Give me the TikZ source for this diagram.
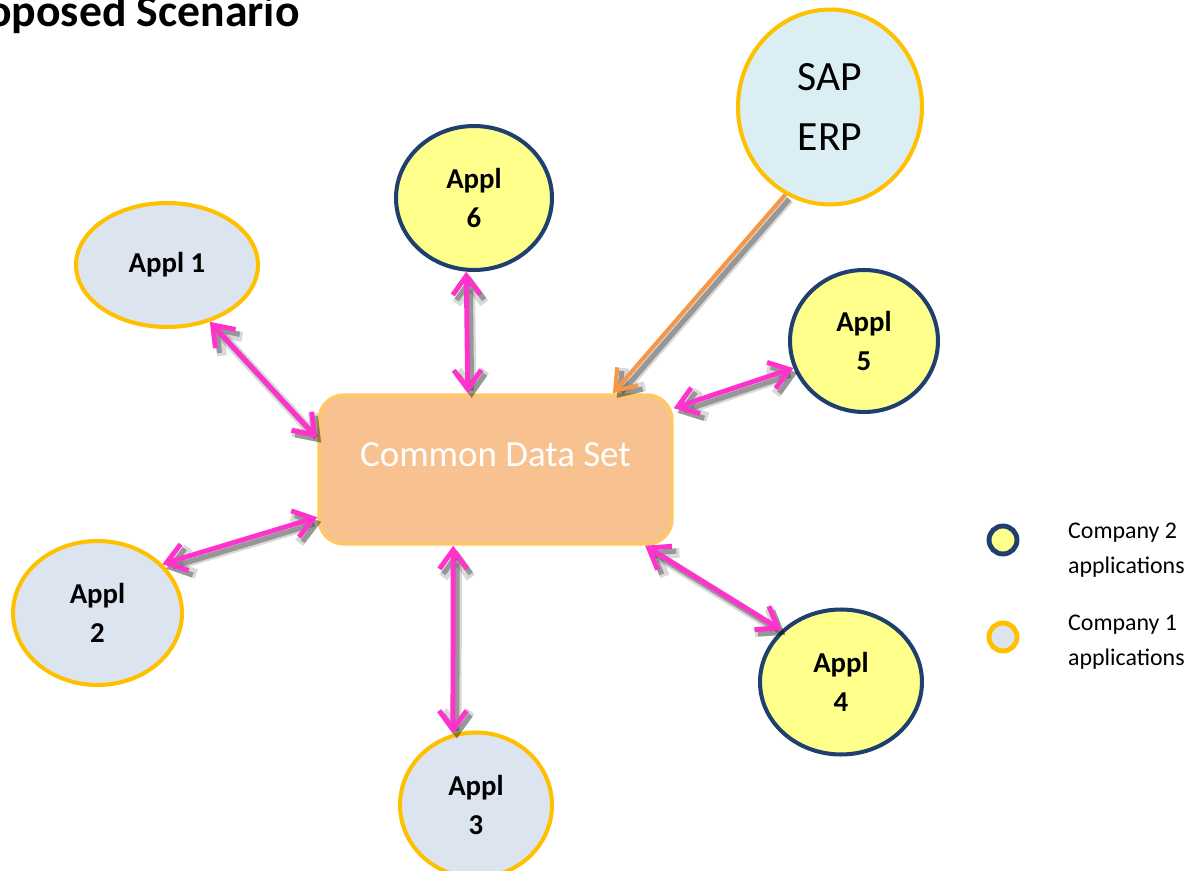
\documentclass[tikz,border=0pt]{standalone}
\usepackage{fontspec}
\setmainfont{Carlito}
\usetikzlibrary{arrows.meta,shapes.geometric}
\definecolor{compAfill}{HTML}{DCE4F0}
\definecolor{compAline}{HTML}{FFC000}
\definecolor{compBfill}{HTML}{FFFF8C}
\definecolor{compBline}{HTML}{1F3F6E}
\definecolor{sapfill}{HTML}{DAEEF3}
\definecolor{datafill}{HTML}{F8C190}
\definecolor{dataline}{HTML}{FFC966}
\definecolor{linkpink}{HTML}{FF33CC}
\definecolor{feedorange}{HTML}{F79646}
\begin{document}
\begin{tikzpicture}[x=0.02cm, y=-0.02cm,
% common options for the applications:
applA/.style = {ellipse, draw=compAline, fill=compAfill, line width=2.3pt,
            align=center, inner sep=0, font=\bfseries\fontsize{16.4}{22}\selectfont},
applB/.style = {ellipse, draw=compBline, fill=compBfill, line width=2.3pt,
            align=center, inner sep=0, font=\bfseries\fontsize{16.4}{22}\selectfont},
% common options for the links:
shadowed/.style = {preaction={draw=black, opacity=0.15, line width=5.5pt,
            transform canvas={shift={(2.2pt,-2.6pt)}}},
            preaction={draw=black, opacity=0.3, line width=3pt,
            transform canvas={shift={(2.2pt,-2.6pt)}}}},
link/.style = {shadowed, draw=linkpink, line width=2.8pt, line cap=round,
            {Straight Barb[length=0.38cm,width=0.55cm]}-{Straight Barb[length=0.38cm,width=0.55cm]}},
% common options for the legend:
keydot/.style = {circle, line width=2.8pt, minimum size=0.56cm, inner sep=0},
keytext/.style = {anchor=west, align=left, font=\fontsize{13.6}{20}\selectfont}]
\useasboundingbox (0,0) rectangle (1198,871);
\node[anchor=base east, font=\bfseries\fontsize{26}{30}\selectfont] (title) at (306,27) {Proposed Scenario};
\node[rectangle, rounded corners=0.5cm, draw=dataline, fill=datafill, line width=2pt,
      minimum width=7.06cm, minimum height=2.98cm] (data) at (495.5,469.5) {};
\node[text=white, font=\fontsize{21}{26}\selectfont] (datatext) at ([yshift=0.3cm]data.center) {Common Data Set};
\node[applA, minimum width=3.64cm, minimum height=2.48cm] (app1) at (167,265) {Appl 1};
\node[applA, minimum width=3.38cm, minimum height=2.88cm] (app2) at (97.5,613) {Appl\\2};
\node[applA, minimum width=3.04cm, minimum height=2.9cm] (app3) at (476,805) {Appl\\3};
\node[applB, minimum width=3.24cm, minimum height=2.9cm] (app4) at (841,682) {Appl\\4};
\node[applB, minimum width=2.96cm, minimum height=2.84cm] (app5) at (864,341) {Appl\\5};
\node[applB, minimum width=3.12cm, minimum height=2.88cm] (app6) at (474,198) {Appl\\6};
\node[ellipse, draw=compAline, fill=sapfill, line width=2.3pt, align=center, inner sep=0,
      minimum width=3.68cm, minimum height=3.9cm,
      font=\fontsize{23.7}{34}\selectfont] (sap) at (830,107) {SAP\\ERP};
\draw[link] (app1.-53) to (data.170);
\draw[link] (app6.-96) to (data.110);
\draw[link] (app5.-159) to (data.19);
\draw[link] (app4.139) to (data.-27);
\draw[link] (app3.108) to (data.-119);
\draw[link] (app2.37) to (data.195);
\draw[shadowed, draw=feedorange, line width=2.3pt,
      -{Straight Barb[length=0.38cm,width=0.55cm]}] (sap.-117) to (data.33);
\node[keydot, draw=compBline, fill=compBfill] (keyB) at (1003,540) {};
\node[keytext] (keyBtext) at (1062,550) {Company 2\\applications};
\node[keydot, draw=compAline, fill=compAfill] (keyA) at (1003,637) {};
\node[keytext] (keyAtext) at (1062,642) {Company 1\\applications};
\end{tikzpicture}
\end{document}
